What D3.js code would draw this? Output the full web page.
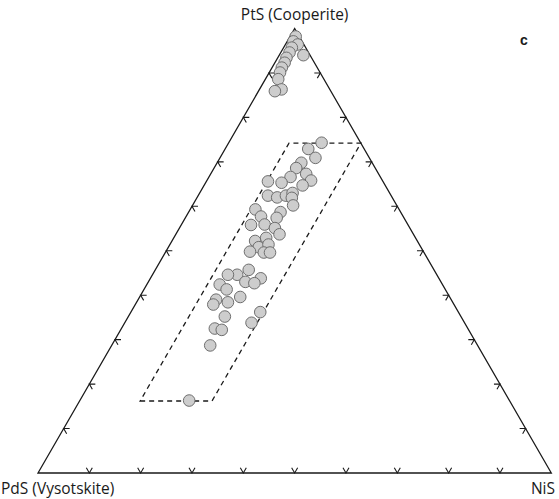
<!DOCTYPE html>
<html>
<head>
<meta charset="utf-8">
<script src="https://cdn.jsdelivr.net/npm/d3@7"></script>
<style>
    body { margin: 0; background: #fff; }
</style>
</head>
<body>
<svg id="chart" width="559" height="499"></svg>
<script>
// vertex labels: apex, bottom-left, bottom-right
const vertexLabels = ["PtS (Cooperite)", "PdS (Vysotskite)", "NiS"];
const panelLabel = "c";

// mol% PtS and NiS of each grain (PdS = remainder)
const ptValues = [
    98.2, 97.1, 96.4, 95.7, 94.6, 93.4, 94.0, 92.3, 91.2, 90.1, 88.6, 86.3, 85.9,
    74.3, 72.9, 70.9, 69.8, 68.6, 67.3, 65.8, 64.7, 66.6, 65.3, 65.6, 62.4, 62.0,
    62.4, 63.0, 61.9, 60.2, 59.3, 57.7, 58.7, 57.4, 55.8, 55.9, 55.1, 53.7, 52.2,
    52.9, 50.8, 51.4, 49.8, 49.6, 49.6,
    45.7, 44.6, 44.6, 43.8, 43.0, 42.7, 42.4, 41.3, 39.0, 37.9, 38.4, 39.6, 35.2,
    32.5, 32.2, 36.2, 33.8, 28.7, 16.3
];
const niValues = [
    1.1, 1.2, 2.4, 1.6, 1.7, 1.7, 4.7, 1.9, 1.9, 2.1, 2.5, 4.3, 3.2,
    18.1, 16.2, 18.6, 16.4, 16.0, 18.6, 20.3, 19.2, 15.9, 14.8, 12.0, 13.6, 15.6,
    17.1, 18.1, 18.5, 19.6, 12.7, 14.6, 17.9, 17.8, 13.6, 16.2, 18.6, 20.2, 16.2,
    18.0, 17.6, 19.2, 16.4, 19.2, 20.4,
    18.2, 16.5, 14.7, 21.5, 18.9, 20.8, 14.2, 16.1, 15.2, 15.2, 17.8, 19.6, 18.8,
    18.2, 19.7, 25.2, 24.7, 19.2, 21.3
];

// dashed compositional field
const fieldPt = [16.2, 74.2];
const fieldNi = [11.8, 25.8];

const tickValues = [10, 20, 30, 40, 50, 60, 70, 80, 90];

const svg = d3.select("#chart");

const xScale = d3.scaleLinear().domain([0, 100]).range([38, 551.3]);
const yScale = d3.scaleLinear().domain([0, 100]).range([473, 28.5]);

function project(pt, ni) {
    return [xScale(ni + pt / 2), yScale(pt)];
}

const points = ptValues.map((pt, i) => ({
    pt,
    ni: niValues[i],
    pd: 100 - pt - niValues[i]
}));

const line = d3.line();

// triangle frame
svg.append("path")
    .attr("d", line([project(100, 0), project(0, 0), project(0, 100)]) + "Z")
    .attr("fill", "none")
    .attr("stroke", "#1a1a1a")
    .attr("stroke-width", 1.3)
    .attr("stroke-linejoin", "miter");

// chevron ticks pointing inward along the other two grid directions
const armLength = 6;
const s3 = Math.sqrt(3) / 2;
const edges = [
    { at: (t) => project(0, t), arms: [[-0.5, -s3], [0.5, -s3]] },
    { at: (t) => project(t, 0), arms: [[1, 0], [0.5, s3]] },
    { at: (t) => project(t, 100 - t), arms: [[-1, 0], [-0.5, s3]] }
];

const tickData = [];
edges.forEach((edge) => {
    tickValues.forEach((t) => {
        const [vx, vy] = edge.at(t);
        tickData.push([
            [vx + edge.arms[0][0] * armLength, vy + edge.arms[0][1] * armLength],
            [vx, vy],
            [vx + edge.arms[1][0] * armLength, vy + edge.arms[1][1] * armLength]
        ]);
    });
});

svg.append("g")
    .selectAll("path")
    .data(tickData)
    .join("path")
    .attr("d", (d) => line(d))
    .attr("fill", "none")
    .attr("stroke", "#1a1a1a")
    .attr("stroke-width", 1.1);

// dashed field outline
const fieldCorners = [
    project(fieldPt[0], fieldNi[0]),
    project(fieldPt[0], fieldNi[1]),
    project(fieldPt[1], fieldNi[1]),
    project(fieldPt[1], fieldNi[0])
];

svg.append("path")
    .attr("d", line(fieldCorners) + "Z")
    .attr("fill", "none")
    .attr("stroke", "#1a1a1a")
    .attr("stroke-width", 1.3)
    .attr("stroke-dasharray", "5,4");

// grains
svg.append("g")
    .selectAll("circle")
    .data(points)
    .join("circle")
    .attr("cx", (d) => project(d.pt, d.ni)[0])
    .attr("cy", (d) => project(d.pt, d.ni)[1])
    .attr("r", 5.8)
    .attr("fill", "#cdcdcd")
    .attr("stroke", "#6e6e6e")
    .attr("stroke-width", 1);

// labels
const labelFont = "'Open Sans', 'Noto Sans', sans-serif";
const labelSize = 15.5;

svg.append("text")
    .attr("x", xScale(50))
    .attr("y", 20)
    .attr("text-anchor", "middle")
    .attr("font-family", labelFont)
    .attr("font-size", labelSize)
    .attr("fill", "#1a1a1a")
    .text(vertexLabels[0]);

svg.append("text")
    .attr("x", 1)
    .attr("y", 494)
    .attr("font-family", labelFont)
    .attr("font-size", labelSize)
    .attr("fill", "#1a1a1a")
    .text(vertexLabels[1]);

svg.append("text")
    .attr("x", 555)
    .attr("y", 494)
    .attr("text-anchor", "end")
    .attr("font-family", labelFont)
    .attr("font-size", labelSize)
    .attr("fill", "#1a1a1a")
    .text(vertexLabels[2]);

svg.append("text")
    .attr("x", 524)
    .attr("y", 45)
    .attr("text-anchor", "middle")
    .attr("font-family", "'Liberation Sans', Arial, sans-serif")
    .attr("font-weight", 700)
    .attr("font-size", 14)
    .attr("fill", "#1a1a1a")
    .text(panelLabel);
</script>
</body>
</html>
